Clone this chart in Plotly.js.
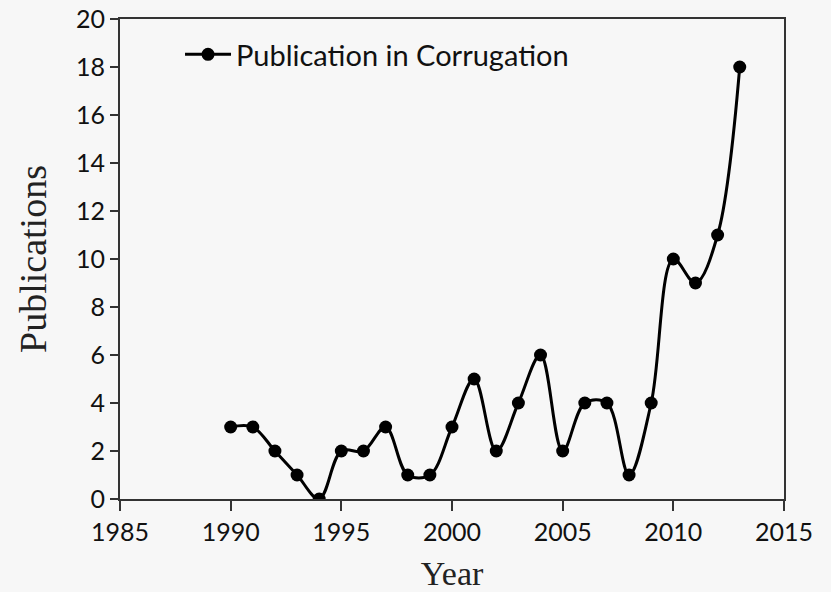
<!DOCTYPE html>
<html>
<head>
<meta charset="utf-8">
<script src="https://cdn.plot.ly/plotly-3.0.1.min.js"></script>
<style>html,body{margin:0;padding:0;background:#f7f7f7;}#chart{width:831px;height:592px;}</style>
</head>
<body>
<div id="chart"></div>
<script>
const years = [1990,1991,1992,1993,1994,1995,1996,1997,1998,1999,2000,2001,2002,2003,2004,2005,2006,2007,2008,2009,2010,2011,2012,2013];
const publications = [3,3,2,1,0,2,2,3,1,1,3,5,2,4,6,2,4,4,1,4,10,9,11,18];
const seriesName = "Publication in Corrugation";
const xTicks = [1985,1990,1995,2000,2005,2010,2015];
const yTicks = [0,2,4,6,8,10,12,14,16,18,20];

const trace = {
  x: years, y: publications, name: seriesName,
  type: "scatter", mode: "lines+markers",
  line: {shape: "spline", smoothing: 1, color: "#000", width: 3},
  marker: {size: 13, color: "#000"}
};
const tickFont = {family: "Lato, 'Open Sans', sans-serif", size: 25, color: "#111"};
const layout = {
  width: 831, height: 592,
  margin: {l: 120, r: 47, t: 19, b: 93},
  paper_bgcolor: "#f7f7f7", plot_bgcolor: "#f7f7f7",
  showlegend: true,
  legend: {x: 0.0904, y: 0.926, xanchor: "left", yanchor: "middle", bgcolor: "rgba(0,0,0,0)",
           itemwidth: 46,
           font: {family: "Lato, 'Open Sans', sans-serif", size: 29, color: "#111"}},
  xaxis: {
    range: [1985, 2015], tickvals: xTicks, ticktext: xTicks.map(String),
    ticks: "outside", ticklen: 10, tickwidth: 2, tickcolor: "#333",
    showline: true, linewidth: 2, linecolor: "#333", mirror: true,
    showgrid: false, zeroline: false, ticklabeloverflow: "allow",
    tickfont: tickFont,
    title: {text: "Year", standoff: 21, font: {family: "'Liberation Serif', 'DejaVu Serif', serif", size: 34, color: "#222"}}
  },
  yaxis: {
    range: [0, 20], tickvals: yTicks, ticktext: yTicks.map(String),
    ticks: "outside", ticklen: 8, tickwidth: 2, tickcolor: "#333",
    showline: true, linewidth: 2, linecolor: "#333", mirror: true,
    showgrid: false, zeroline: false, ticklabeloverflow: "allow",
    tickfont: tickFont,
    title: {text: "Publications", standoff: 18, font: {family: "'Liberation Serif', 'DejaVu Serif', serif", size: 38, color: "#222"}}
  }
};
Plotly.newPlot("chart", [trace], layout, {displayModeBar: false, staticPlot: true});
</script>
</body>
</html>
